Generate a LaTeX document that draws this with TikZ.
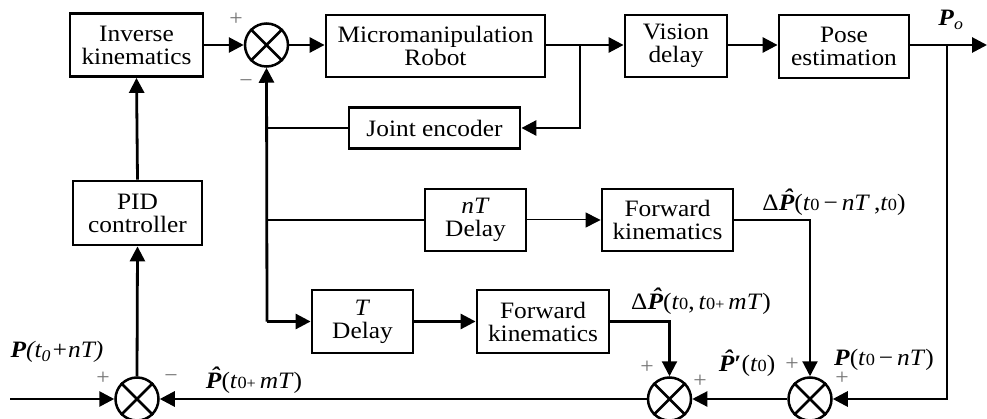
\documentclass[tikz,border=0pt]{standalone}
\usepackage{fontspec}
\setmainfont{Liberation Serif}[FakeStretch=1.08]
\usetikzlibrary{arrows.meta}
\newcommand\Pb{\textbf{\textit{P}}}
\newcommand\Ph{\textbf{\textit{\accent"02C6 P}}}
\newcommand\zs{{\fontsize{17}{17}\selectfont 0}}
\newcommand\smallplus{{\fontsize{15}{15}\selectfont +}}
\begin{document}
\begin{tikzpicture}[x=1pt,y=-1pt,
  blk/.style={draw, line width=2.8pt, inner sep=0pt, align=center,
    font=\fontsize{23.5}{23}\selectfont},
  sumj/.style={circle, draw, line width=2.5pt, minimum size=43pt, inner sep=0pt},
  ln/.style={line width=2.8pt},
  thinln/.style={line width=1pt},
  arr/.style={ln, -{Triangle[length=15pt,width=15pt]}},
  tarr/.style={thinln, -{Triangle[length=15pt,width=15pt]}},
  sgn/.style={text=black!55, font=\fontsize{22}{22}\selectfont, inner sep=0pt},
  lbl/.style={font=\fontsize{23.5}{23.5}\selectfont, inner sep=0pt}]
\useasboundingbox (0,0) rectangle (987,419);
% blocks
\node[blk, minimum width=133pt, minimum height=63pt] (inv) at (136.5,45) {Inverse\\kinematics};
\node[sumj] (sT) at (266.5,45) {};
\node[blk, minimum width=219pt, minimum height=62pt] (rob) at (435.5,46) {Micromanipulation\\Robot};
\node[blk, minimum width=102pt, minimum height=62pt] (vis) at (676,46) {Vision\\delay};
\node[blk, minimum width=130pt, minimum height=63pt] (pose) at (844,46.5) {Pose\\estimation};
\node[blk, minimum width=171pt, minimum height=41pt] (enc) at (434.5,128) {Joint encoder};
\node[blk, minimum width=129pt, minimum height=64pt] (pid) at (137.5,213) {PID\\controller};
\node[blk, minimum width=101pt, minimum height=62pt] (nTd) at (475.5,220) {\textit{nT}\\Delay};
\node[blk, minimum width=131pt, minimum height=62pt] (fk1) at (667.5,220) {Forward\\kinematics};
\node[blk, minimum width=101pt, minimum height=63pt] (Td) at (362.5,321.5) {\textit{T}\\Delay};
\node[blk, minimum width=132pt, minimum height=63pt] (fk2) at (543,321.5) {Forward\\kinematics};
\node[sumj] (sL) at (137,399) {};
\node[sumj] (sM) at (669.5,399) {};
\node[sumj] (sR) at (810,399) {};
\foreach \s in {sT,sL,sM,sR}
  \draw[line width=2.5pt] (\s.north west)--(\s.south east) (\s.north east)--(\s.south west);
% coordinates
\coordinate (b1) at (580,45);
\coordinate (b2) at (947,45);
\coordinate (out) at (987,45);
\coordinate (jl) at (267,128);
\coordinate (nl) at (267,220);
\coordinate (tl) at (267,321.5);
\coordinate (in) at (10,399);
% connectors
\draw[arr] (inv.east|-sT) -- (sT.west);
\draw[arr] (sT.east) -- (rob.west|-sT);
\draw[arr] (rob.east|-b1) -- (vis.west|-b1);
\draw[arr] (b1) |- (enc.east);
\draw[arr] (vis.east|-b1) -- (pose.west|-b1);
\draw[arr] (pose.east|-b1) -- (out);
\draw[arr] (b2) |- (sR.east);
\draw[ln] (enc.west) -- (jl);
\draw[arr] (tl) -- (sT.south);
\draw[ln] (nl) -- (nTd.west);
\draw[arr] (tl) -- (Td.west);
\draw[tarr] (nTd.east) -- (fk1.west);
\draw[arr, line width=2.2pt] (fk1.east) -| (sR.north);
\draw[arr] (Td.east) -- (fk2.west);
\draw[arr, line width=2.2pt] (fk2.east) -| (sM.north);
\draw[arr, line width=2.2pt] (sR.west) -- (sM.east);
\draw[arr] (sM.west) -- (sL.east);
\draw[arr] (in) -- (sL.west);
\draw[arr] (sL.north) -- (pid.south);
\draw[arr] (pid.north) -- (inv.south);
% signs
\node[sgn] (s1) at (236,19) {+};
\node[sgn] (s2) at (246,84) {−};
\node[sgn] (s3) at (103,378) {+};
\node[sgn] (s4) at (171,379) {−};
\node[sgn] (s5) at (647,367) {+};
\node[sgn] (s6) at (700,381) {+};
\node[sgn] (s7) at (792,364) {+};
\node[sgn] (s8) at (842,378) {+};
% labels
\node[lbl] (lPo) at (951,20) {\Pb\textsubscript{\textit{o}}};
\node[lbl] (l1) at (834,202) {Δ\Ph(\textit{t}\zs\,−\,\textit{nT}\,,\textit{t}\zs)};
\node[lbl] (l2) at (701,301) {Δ\Ph(\textit{t}\zs,\,\textit{t}\zs\smallplus\,\textit{mT})};
\node[lbl] (l3) at (747,363) {\Ph\textbf{′}(\textit{t}\zs)};
\node[lbl] (l4) at (884,360) {\Pb(\textit{t}\zs\,−\,\textit{nT})};
\node[lbl] (l5) at (57,352) {\textit{\Pb(t\textsubscript{0}+nT)}};
\node[lbl] (l6) at (254,380) {\Ph(\textit{t}\zs\smallplus\,\textit{mT})};
\end{tikzpicture}
\end{document}
